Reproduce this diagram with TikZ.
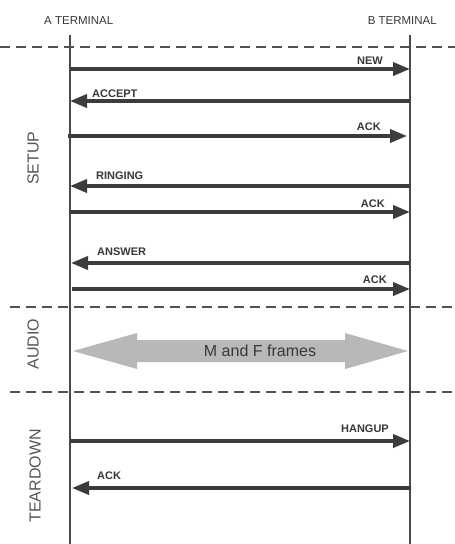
\documentclass[tikz,border=0pt]{standalone}
\usepackage{fontspec}
\setmainfont{Liberation Sans}
\usetikzlibrary{arrows.meta}
\definecolor{arrowgray}{HTML}{3C3C3C}
\definecolor{linegray}{HTML}{4A4A4A}
\definecolor{dashgray}{HTML}{505050}
\definecolor{labelgray}{HTML}{383838}
\definecolor{sidegray}{HTML}{555555}
\definecolor{bandgray}{HTML}{B8B8B8}
\begin{document}
\begin{tikzpicture}[x=1pt,y=-1pt,
  msg/.style={draw=arrowgray, line width=3.6pt, -{Triangle[length=17pt,width=13pt]}},
  lifeline/.style={draw=linegray, line width=1.2pt},
  phase/.style={draw=dashgray, line width=1.2pt, dash pattern=on 10pt off 6pt},
  lbl/.style={font=\bfseries\fontsize{11}{13}\selectfont, text=labelgray, inner sep=0pt},
  side/.style={rotate=90, font=\fontsize{16}{18}\selectfont, text=sidegray, inner sep=0pt},
  term/.style={font=\fontsize{11.5}{13}\selectfont, text=labelgray, inner sep=0pt}]
\useasboundingbox (0,0) rectangle (455,544);
\fill[white] (0,0) rectangle (455,544);

% headers
\node[term, anchor=base west] (ta) at (44,24) {A TERMINAL};
\node[term, anchor=base east] (tb) at (437,24) {B TERMINAL};

% lifelines
\coordinate (atop) at (70,35);
\coordinate (abot) at (70,544);
\coordinate (btop) at (410,35);
\coordinate (bbot) at (410,544);
\draw[lifeline] (atop) -- (abot);
\draw[lifeline] (btop) -- (bbot);

% phase separators
\coordinate (d1l) at (0,47);   \coordinate (d1r) at (455,47);
\coordinate (d2l) at (10,307); \coordinate (d2r) at (455,307);
\coordinate (d3l) at (10,392); \coordinate (d3r) at (455,392);
\draw[phase] (d1l) -- (d1r);
\draw[phase] (d2l) -- (d2r);
\draw[phase] (d3l) -- (d3r);

% phase labels
\node[side] (setup) at (33,158) {SETUP};
\node[side] (audio) at (33,344) {AUDIO};
\node[side] (teardown) at (35,476) {TEARDOWN};

% message endpoints
\coordinate (a1) at (70,69);  \coordinate (b1) at (410,69);
\coordinate (a2) at (70,101); \coordinate (b2) at (410,101);
\coordinate (a3) at (68,136); \coordinate (b3) at (407,136);
\coordinate (a4) at (70,186); \coordinate (b4) at (410,186);
\coordinate (a5) at (70,212); \coordinate (b5) at (410,212);
\coordinate (a6) at (71,263); \coordinate (b6) at (410,263);
\coordinate (a7) at (72,289); \coordinate (b7) at (410,289);
\coordinate (a8) at (70,441); \coordinate (b8) at (410,441);
\coordinate (a9) at (72,488); \coordinate (b9) at (411,488);

\draw[msg] (a1) -- (b1);
\draw[msg] (b2) -- (a2);
\draw[msg] (a3) -- (b3);
\draw[msg] (b4) -- (a4);
\draw[msg] (a5) -- (b5);
\draw[msg] (b6) -- (a6);
\draw[msg] (a7) -- (b7);
\draw[msg] (a8) -- (b8);
\draw[msg] (b9) -- (a9);

% message labels
\node[lbl, anchor=base east] (l1) at (383,64) {NEW};
\node[lbl, anchor=base west] (l2) at (92,97) {ACCEPT};
\node[lbl, anchor=base east] (l3) at (381,130) {ACK};
\node[lbl, anchor=base west] (l4) at (96,179) {RINGING};
\node[lbl, anchor=base east] (l5) at (385,207) {ACK};
\node[lbl, anchor=base west] (l6) at (97,255) {ANSWER};
\node[lbl, anchor=base east] (l7) at (387,283) {ACK};
\node[lbl, anchor=base east] (l8) at (389,432) {HANGUP};
\node[lbl, anchor=base west] (l9) at (97,479) {ACK};

% audio band (double arrow)
\fill[bandgray] (73,351) -- (137,333) -- (137,340) -- (345,340) -- (345,333)
  -- (408,351) -- (345,369) -- (345,362) -- (137,362) -- (137,369) -- cycle;
\node[font=\fontsize{16}{18}\selectfont, text=labelgray, inner sep=0pt] (frames) at (260,351) {M and F frames};
\end{tikzpicture}
\end{document}
